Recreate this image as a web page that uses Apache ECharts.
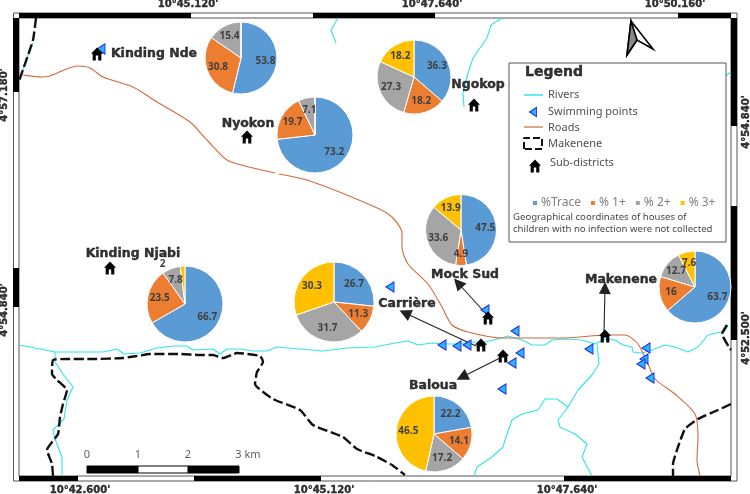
<!DOCTYPE html>
<html><head><meta charset="utf-8">
<style>html,body{margin:0;padding:0;background:#fff}#c{width:750px;height:494px}</style>
<script src="https://cdn.jsdelivr.net/npm/echarts@6/dist/echarts.min.js"></script>
</head><body><div id="c"></div>
<script>
const categories=['%Trace','% 1+','% 2+','% 3+'];
const colors=['#5B9BD5','#ED7D31','#A5A5A5','#FFC000'];
const kindingNde=[53.8,30.8,15.4,0];
const nyokon=[73.2,19.7,7.1,0];
const ngokop=[36.3,18.2,27.3,18.2];
const mockSud=[47.5,4.9,33.6,13.9];
const kindingNjabi=[66.7,23.5,7.8,2];
const carriere=[26.7,11.3,31.7,30.3];
const baloua=[22.2,14.1,17.2,46.5];
const makenene=[63.7,16,12.7,7.6];
const pies=[[kindingNde,241,58,36],[nyokon,315,135,38],[ngokop,414,77,37],[mockSud,461,230,35.5],
 [kindingNjabi,185,304,38],[carriere,334,302,40],[baloua,434,434,38],[makenene,695,287,36]];

const riverMain=[[19,345],[40,349],[55,352],[73,352],[103,352],[117,349],[124,354],[140,353],[157,348],[173,346],[187,346],[193,350],[213,349],[220,354],[227,349],[240,349],[253,351],[267,351],[277,347],[300,349],[323,351],[347,348],[375,347],[395,343],[408,341],[418,345],[432,343],[442,344],[458,344],[472,342],[485,342],[498,339],[508,336],[522,340],[532,345],[545,345],[552,340],[565,339],[582,340],[595,344],[605,339],[615,340],[623,345],[632,347],[633,352],[642,353],[652,350],[665,345],[675,347],[688,352],[698,347],[708,335],[725,331],[728,325]];
const riverB1=[[597,344],[598,354],[599,364],[592,375],[578,390],[568,407],[558,420],[560,427],[575,434],[587,444],[582,457],[592,476]];
const riverB2=[[568,407],[557,399],[545,399],[538,410],[522,414],[512,420],[505,440],[503,447],[492,457],[477,467],[474,476]];
const riverB3=[[55,352],[55,362],[63,374],[73,387],[67,400],[64,419],[53,430],[55,439],[62,457],[62,476]];
const riverB4=[[33,43],[25,63],[19,81]];
const riverB5=[[338,18],[331,30],[336,43]];
const riverB6=[[502,18],[491,25],[487,38],[473,58],[468,73],[463,93],[464,107]];
const riverB7=[[731,72],[724,77]];
const rivers=[riverMain,riverB1,riverB2,riverB3,riverB4,riverB5,riverB6,riverB7];

const roadA=[[23,75],[42,77],[50,76],[77,66],[90,68],[103,77],[133,87],[157,102],[190,122],[207,140],[227,160],[253,168],[275,173]];
const roadB=[[279,174],[310,181],[375,207],[392,217],[402,233],[402,247],[408,264],[428,284],[442,307],[452,325],[468,332],[502,338],[562,338],[608,335],[625,335],[638,344],[648,364],[655,379],[675,394],[695,414],[698,437],[697,460],[700,476]];
const roads=[roadA,roadB];

const borderA=[[53,476],[52,464],[47,450],[58,434],[60,417],[63,404],[67,390],[57,380],[52,374],[53,360],[67,359],[93,359],[123,358],[137,356],[150,354],[180,354],[200,355],[213,355],[223,358],[237,353],[260,356],[263,362],[257,372],[255,384],[273,399],[300,410],[313,425],[343,437],[357,449],[375,456],[392,465],[405,475]];
const borderB=[[731,404],[718,410],[698,419],[685,429],[678,447],[673,464],[673,476]];
const borderC=[[727,325],[722,334],[731,350]];
const borderD=[[36,18],[33,40],[19,81]];
const borders=[borderA,borderB,borderC,borderD];

const swimmingPoints=[[101,49],[390,287],[485,310],[515,331],[442,345],[457,346],[467,345],[520,353],[512,363],[502,389],[589,349],[646,348],[644,359],[641,364],[650,378]];
const houses=[[97,54],[247,137],[474,105],[110,268],[488,318],[481,345],[503,356],[605,336]];
const arrows=[[[487,315],[458,283]],[[476,346],[405,313]],[[500,358],[462,377]],[[604,332],[605,288]]];
const places=[['Kinding Nde',154,54],['Nyokon',248,124],['Ngokop',478,85],['Kinding Njabi',133,254],['Mock Sud',465,275],['Carrière',407,304],['Baloua',433,386],['Makenene',621,280]];

const xTicks=[["10°45.120'",188,4],["10°47.640'",432,4],["10°50.160'",675,4],["10°42.600'",80,490],["10°45.120'",324,490],["10°47.640'",567,490]];
const yTicks=[["4°57.180'",4,95],["4°54.840'",4,310],["4°54.840'",746,122],["4°52.500'",746,338]];
const frameBlack=[[19,13,191,18],[313,13,435,18],[678,13,731,18],[13,18,19,92],[13,268,19,307],[731,18,737,126],[731,206,737,340],[19,476,78,481],[194,476,321,481],[564,476,731,481]];
const scaleBlack=[[87,466,138,473],[188,466,239,473]];
const scaleWhite=[[138,466,188,473]];
const scaleLabels=[['0',87,455],['1',138,455],['2',188,455],['3 km',248,455]];
const legendRivers=[[524,95],[543,95]];
const legendRoads=[[524,127],[543,127]];
const legendBox=[[524,149],[524,138],[542,138],[542,149],[524,149]];
const legendTexts=[['Rivers',548,95,11],['Swimming points',548,112,11],['Roads',548,128,11],['Makenene',548,144,11],['Sub-districts',550,163,11]];
const noteLines=[['Geographical coordinates of houses of',513,217],['children with no infection were not collected',513,229]];
const northLeft=[[631,21],[637,40],[627,55]];
const northRight=[[631,21],[653,49],[637,40],[627,55]];

const housePath='path://M50 0L100 48L86 48L86 100L60 100L60 62L40 62L40 100L14 100L14 48L0 48Z';
const triPath='path://M0 50L100 0L100 100Z';

function line(data,color,width,type,z,smooth){
  return {type:'line',data,showSymbol:false,symbol:'none',silent:true,animation:false,z:z||2,smooth:smooth||0,
    lineStyle:{color,width,type:type||'solid'}};
}
function textSeries(rows,o){
  return {type:'scatter',symbolSize:0,silent:true,z:20,data:rows.map(r=>({value:[r[1],r[2]],name:r[0]})),
    label:Object.assign({show:true,position:'inside',formatter:p=>p.name,color:'#000'},o)};
}
function rects(rows,fill,stroke,z){
  return {type:'custom',silent:true,z:z||5,data:rows,renderItem:(p,api)=>{
    const a=api.coord([api.value(0),api.value(1)]),b=api.coord([api.value(2),api.value(3)]);
    return {type:'rect',shape:{x:a[0],y:a[1],width:b[0]-a[0],height:b[1]-a[1]},style:{fill,stroke,lineWidth:stroke?1:0}};
  },encode:{x:[0,2],y:[1,3]}};
}
function poly(points,fill,stroke){
  return {type:'custom',silent:true,z:6,data:[0],renderItem:(p,api)=>({type:'polygon',
    shape:{points:points.map(q=>api.coord(q))},style:{fill,stroke,lineWidth:1.6}})};
}
const series=[];
series.push(rects([[13.5,13,737,481]],'#fff','#555',1));
series.push(rects([[19,18,731,476]],'#fff','#555',1));
rivers.forEach(r=>series.push(line(r,'#2EE6EA',1.1,'solid',3)));
roads.forEach(r=>series.push(line(r,'#D2693C',1.1,'solid',4,0.25)));
borders.forEach(r=>series.push(line(r,'#111',2.4,[10,3.5],3,0.15)));
series.push(rects(frameBlack,'#000',null,5));
series.push(rects(scaleBlack,'#000','#000',5));
series.push(rects(scaleWhite,'#fff','#000',5));
series.push({type:'lines',coordinateSystem:'cartesian2d',silent:true,z:7,symbol:['none','triangle'],symbolSize:[0,12],
  lineStyle:{color:'#222',width:1.1,opacity:1},data:arrows.map(c=>({coords:c}))});
series.push({type:'scatter',silent:true,z:8,symbol:triPath,symbolSize:[8,10],data:swimmingPoints,
  itemStyle:{color:'#2EB4F5',borderColor:'#1E2BE8',borderWidth:1,opacity:1}});
series.push({type:'scatter',silent:true,z:9,symbol:housePath,symbolSize:[12,13],data:houses,itemStyle:{color:'#000',opacity:1}});
series.push(poly(northRight,'#fff','#000'));
series.push(poly(northLeft,'#888','#000'));
series.push(rects([[509,63,726,242]],'#fff','#555',10));
series.push(Object.assign(line(legendRivers,'#2EE6EA',1.5),{z:11}));
series.push(Object.assign(line(legendRoads,'#D2693C',1.2),{z:11}));
series.push(Object.assign(line(legendBox,'#111',2,[7,3]),{z:11}));
series.push({type:'scatter',silent:true,z:11,symbol:triPath,symbolSize:[7,9],data:[[533,112]],itemStyle:{color:'#2EB4F5',borderColor:'#1E2BE8',borderWidth:1,opacity:1}});
series.push({type:'scatter',silent:true,z:11,symbol:housePath,symbolSize:[12,13],data:[[535,166]],itemStyle:{color:'#000',opacity:1}});
const sans="'Noto Sans',sans-serif", bold="'DejaVu Sans',sans-serif";
const heavy={textBorderColor:'#000',textBorderWidth:0.4};
series.push(textSeries(places,Object.assign({fontFamily:bold,fontWeight:'bold',fontSize:12.5},heavy)));
series.push(textSeries(xTicks,Object.assign({fontFamily:bold,fontWeight:'bold',fontSize:10},heavy)));
series.push(textSeries(yTicks,Object.assign({fontFamily:bold,fontWeight:'bold',fontSize:10,rotate:90},heavy)));
series.push(textSeries(scaleLabels,{fontFamily:sans,fontSize:11,color:'#333'}));
series.push(textSeries([['Legend',554,72]],Object.assign({fontFamily:bold,fontWeight:'bold',fontSize:14},heavy)));
series.push(textSeries(legendTexts,{fontFamily:sans,fontSize:11,color:'#222',align:'left',position:'right',distance:0}));
series.push(textSeries(noteLines,{fontFamily:sans,fontSize:9.6,color:'#111',align:'left',position:'right',distance:0}));
pies.forEach(([vals,cx,cy,r])=>{
  const total=vals.reduce((a,b)=>a+b,0);
  series.push({type:'pie',silent:true,z:12,animation:false,center:[cx,cy],radius:[0,r],startAngle:90,clockwise:true,
    data:vals.map((v,i)=>({name:categories[i],value:v,itemStyle:{color:colors[i]},label:{show:v>0}})),
    itemStyle:{borderColor:'#fff',borderWidth:1},
    label:{show:true,position:'inside',formatter:p=>String(p.value),color:'#404040',fontFamily:"'Open Sans',sans-serif",fontWeight:'bold',fontSize:10},
    labelLine:{show:false},
    labelLayout:p=>{
      let acc=0;for(let i=0;i<p.dataIndex;i++)acc+=vals[i];
      const v=vals[p.dataIndex],mid=(acc+v/2)/total*2*Math.PI;
      if(v===2) return {dx:-21,dy:-18};
      return {dx:Math.sin(mid)*r*0.1,dy:-Math.cos(mid)*r*0.1};
    }});
});
const chart=echarts.init(document.getElementById('c'),null,{renderer:'canvas'});
chart.setOption({animation:false,backgroundColor:'#fff',
  grid:{left:0,right:0,top:0,bottom:0,containLabel:false},
  xAxis:{type:'value',min:0,max:750,show:false},
  yAxis:{type:'value',min:0,max:494,inverse:true,show:false},
  tooltip:{show:false},
  legend:{data:categories,left:526,top:192,itemWidth:6,itemHeight:6,itemGap:8,icon:'rect',z:20,
    textStyle:{color:'#7F7F7F',fontFamily:sans,fontSize:12,padding:[0,0,0,-2]}},
  series});
</script></body></html>
